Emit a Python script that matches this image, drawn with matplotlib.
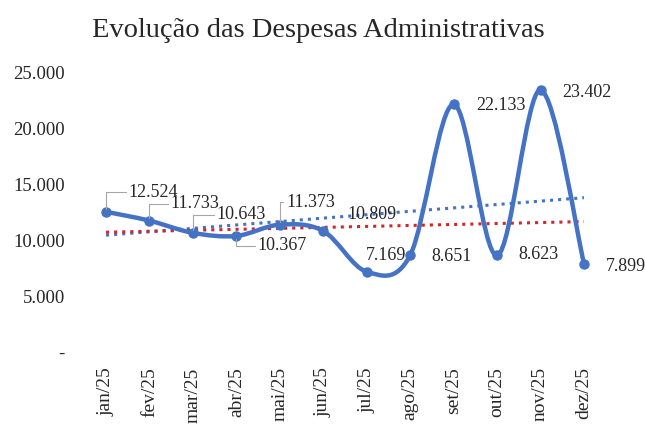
import numpy as np
import matplotlib.pyplot as plt
from matplotlib.path import Path
from matplotlib.patches import PathPatch
from matplotlib.ticker import FuncFormatter

# dados do grafico
meses = ['jan/25', 'fev/25', 'mar/25', 'abr/25', 'mai/25', 'jun/25',
         'jul/25', 'ago/25', 'set/25', 'out/25', 'nov/25', 'dez/25']
despesas = [12524, 11733, 10643, 10367, 11373, 10809,
            7169, 8651, 22133, 8623, 23402, 7899]
tendencia_vermelha = [10700, 11650]  # inicio e fim da linha pontilhada vermelha
y_ticks = [0, 5000, 10000, 15000, 20000, 25000]

# deslocamento dos rotulos (pontos) - estilo do Excel
offsets = [(34, 14), (33, 12), (35, 13), (33, -7), (22, 16), (35, 12),
           (14, 12), (30, -1), (34, -1), (30, 1), (33, -2), (30, -2)]

AZUL = '#4472C4'
VERMELHO = '#D2262B'
FONTE = 'Liberation Serif'


def fmt(v):
    if v == 0:
        return '-'
    return f"{v:,.0f}".replace(',', '.')


def curva_suave(xs, ys):
    """ Bezier no estilo 'linha suavizada' do Excel (Catmull-Rom). """
    pts = list(zip(xs, ys))
    verts = [pts[0]]
    codes = [Path.MOVETO]
    for i in range(len(pts) - 1):
        p0 = pts[i - 1] if i > 0 else pts[i]
        p1 = pts[i]
        p2 = pts[i + 1]
        p3 = pts[i + 2] if i + 2 < len(pts) else pts[i + 1]
        c1 = (p1[0] + (p2[0] - p0[0]) / 6, p1[1] + (p2[1] - p0[1]) / 6)
        c2 = (p2[0] - (p3[0] - p1[0]) / 6, p2[1] - (p3[1] - p1[1]) / 6)
        verts += [c1, c2, p2]
        codes += [Path.CURVE4] * 3
    return Path(verts, codes)


fig = plt.figure(figsize=(6.45, 4.26), dpi=100)
ax = fig.add_axes([0.1307, 0.1737, 0.8084, 0.657])

x = np.arange(len(meses))

# linhas de tendencia
coef = np.polyfit(x, despesas, 1)
ax.plot(x, np.polyval(coef, x), color=AZUL, linestyle=':', linewidth=2.2, zorder=2)
ax.plot([x[0], x[-1]], tendencia_vermelha, color=VERMELHO, linestyle=':', linewidth=2.2, zorder=2)

# linha principal suavizada + marcadores
ax.add_patch(PathPatch(curva_suave(x, despesas), facecolor='none', edgecolor=AZUL,
                       linewidth=3.2, capstyle='round', joinstyle='round', zorder=3))
ax.plot(x, despesas, linestyle='none', marker='o', markersize=6.5, color=AZUL, zorder=4)

# rotulos de dados
for i, v in enumerate(despesas):
    dx, dy = offsets[i]
    seta = None
    if i < 5:
        seta = dict(arrowstyle='-', color='#A6A6A6', linewidth=0.8,
                    connectionstyle='angle,angleA=0,angleB=90,rad=0',
                    shrinkA=0, shrinkB=2)
    ax.annotate(fmt(v), xy=(x[i], v), xytext=(dx, dy), textcoords='offset points',
                ha='center', va='center', fontsize=13, family=FONTE, color='#262626',
                annotation_clip=False, arrowprops=seta, zorder=5)

ax.set_xlim(-0.5, len(meses) - 0.5)
ax.set_ylim(0, 25000)
ax.set_yticks(y_ticks)
ax.yaxis.set_major_formatter(FuncFormatter(lambda v, p: fmt(v)))
ax.set_xticks(x)
ax.set_xticklabels(meses, rotation=90, va='top')
ax.tick_params(axis='both', length=0, colors='#262626')
ax.tick_params(axis='y', pad=14, labelsize=13.5)
ax.tick_params(axis='x', pad=11, labelsize=14)
for lbl in ax.get_xticklabels() + ax.get_yticklabels():
    lbl.set_family(FONTE)
for s in ax.spines.values():
    s.set_visible(False)

fig.text(0.493, 0.913, 'Evolução das Despesas Administrativas', ha='center',
         va='baseline', fontsize=20.5, family=FONTE, color='#262626')

fig.savefig('out.png', dpi=100)
